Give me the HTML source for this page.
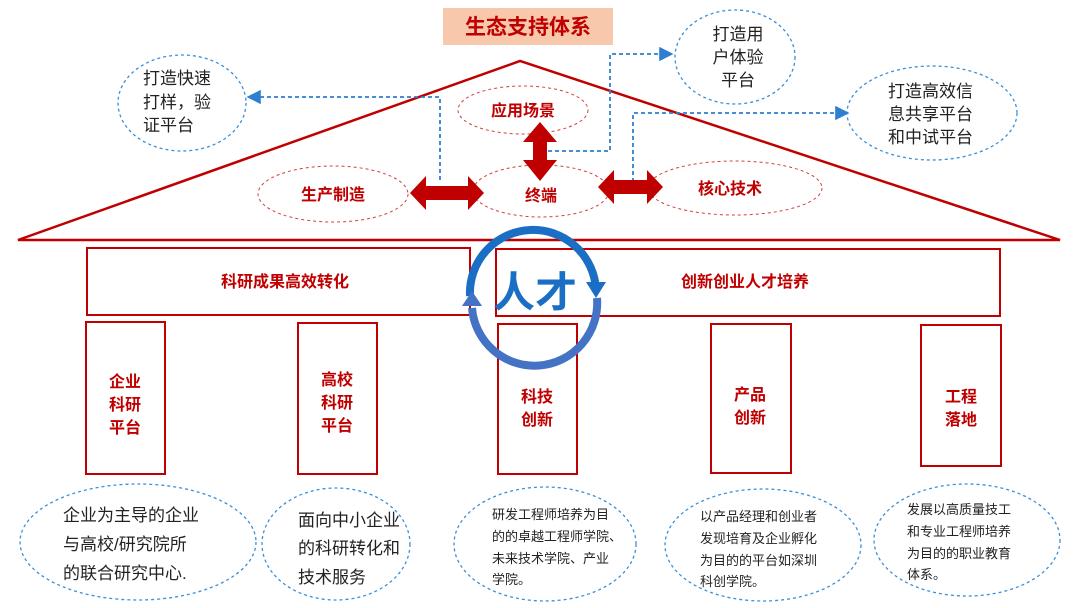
<!DOCTYPE html>
<html><head><meta charset="utf-8"><style>
html,body{margin:0;padding:0;background:#fff;width:1080px;height:608px;overflow:hidden}
text{font-family:"Liberation Sans","Noto Sans CJK SC",sans-serif}
.r{fill:#c00000;font-weight:bold}
.k{fill:#222}
</style></head><body>
<svg width="1080" height="608" viewBox="0 0 1080 608" xmlns="http://www.w3.org/2000/svg">
<defs>
<marker id="ab" markerWidth="8" markerHeight="8" refX="6" refY="4" orient="auto"><path d="M0,0 L8,4 L0,8 z" fill="#2f7fd0"/></marker>
</defs>
<rect x="443" y="8" width="170" height="37" fill="#f8c8ad"/>
<text x="528" y="34" text-anchor="middle" font-size="21" class="r">生态支持体系</text>
<path d="M18,240 L520,61 L1060,240 Z" fill="none" stroke="#c00000" stroke-width="2.5"/>
<g fill="none" stroke="#3a8fd8" stroke-width="1.3" stroke-dasharray="3,3">
<ellipse cx="182" cy="103" rx="64" ry="48"/>
<ellipse cx="735" cy="57" rx="60" ry="47"/>
<ellipse cx="932" cy="113" rx="85" ry="47"/>
<ellipse cx="138" cy="542" rx="118" ry="58"/>
<ellipse cx="336" cy="544" rx="74" ry="56"/>
<ellipse cx="545" cy="544" rx="91" ry="57"/>
<ellipse cx="763" cy="545" rx="98" ry="56"/>
<ellipse cx="967" cy="540" rx="93" ry="56"/>
</g>
<g font-size="17" class="k">
<text x="143" y="84">打造快速</text><text x="143" y="108">打样，验</text><text x="143" y="131">证平台</text>
<text x="738" y="40" text-anchor="middle">打造用</text><text x="738" y="63" text-anchor="middle">户体验</text><text x="738" y="86" text-anchor="middle">平台</text>
<text x="888" y="97">打造高效信</text><text x="888" y="120">息共享平台</text><text x="888" y="143">和中试平台</text>
<text x="63" y="521">企业为主导的企业</text><text x="63" y="550">与高校/研究院所</text><text x="63" y="579">的联合研究中心.</text>
<text x="298" y="526">面向中小企业</text><text x="298" y="554">的科研转化和</text><text x="298" y="583">技术服务</text>
</g>
<g font-size="13" class="k">
<text x="492" y="519">研发工程师培养为目</text><text x="492" y="541">的的卓越工程师学院、</text><text x="492" y="563">未来技术学院、产业</text><text x="492" y="584">学院。</text>
<text x="700" y="521">以产品经理和创业者</text><text x="700" y="543">发现培育及企业孵化</text><text x="700" y="565">为目的的平台如深圳</text><text x="700" y="586">科创学院。</text>
<text x="907" y="514">发展以高质量技工</text><text x="907" y="536">和专业工程师培养</text><text x="907" y="558">为目的的职业教育</text><text x="907" y="579">体系。</text>
</g>
<g fill="none" stroke="#d04040" stroke-width="1" stroke-dasharray="3,3">
<ellipse cx="523" cy="110" rx="65" ry="24"/>
<ellipse cx="333" cy="194" rx="75" ry="28"/>
<ellipse cx="541" cy="191" rx="68" ry="26"/>
<ellipse cx="735" cy="188" rx="87" ry="27"/>
</g>
<g font-size="16" class="r">
<text x="523" y="116" text-anchor="middle">应用场景</text>
<text x="333" y="200" text-anchor="middle">生产制造</text>
<text x="541" y="201" text-anchor="middle">终端</text>
<text x="730" y="194" text-anchor="middle">核心技术</text>
</g>
<g fill="none" stroke="#2f7fd0" stroke-width="1.8" stroke-dasharray="4,3">
<path d="M440,180 L440,97 L250,97" marker-end="url(#ab)"/>
<path d="M548,151 L610,151 L610,54 L670,54" marker-end="url(#ab)"/>
<path d="M633,182 L633,113 L846,113" marker-end="url(#ab)"/>
</g>
<g fill="#c00000">
<path d="M540,122 L557,142 L547,142 L547,160 L557,160 L540,181 L523,160 L533,160 L533,142 L523,142 Z"/>
<path d="M410,193 L426,176 L426,186 L468,186 L468,176 L484,193 L468,210 L468,200 L426,200 L426,210 Z"/>
<path d="M598,187 L614,170 L614,180 L647,180 L647,170 L663,187 L647,204 L647,194 L614,194 L614,204 Z"/>
</g>
<rect x="87" y="248" width="383" height="67" fill="none" stroke="#c00000" stroke-width="2"/>
<rect x="496" y="249" width="504" height="67" fill="none" stroke="#c00000" stroke-width="2"/>
<text x="285" y="287" text-anchor="middle" font-size="16" class="r">科研成果高效转化</text>
<text x="745" y="287" text-anchor="middle" font-size="16" class="r">创新创业人才培养</text>
<g fill="none" stroke="#c00000" stroke-width="2">
<rect x="86" y="322" width="79" height="152"/>
<rect x="298" y="323" width="79" height="151"/>
<rect x="498" y="324" width="79" height="150"/>
<rect x="711" y="324" width="80" height="149"/>
<rect x="921" y="325" width="80" height="141"/>
</g>
<g font-size="16" class="r" text-anchor="middle">
<text x="125" y="387">企业</text><text x="125" y="410">科研</text><text x="125" y="433">平台</text>
<text x="337" y="385">高校</text><text x="337" y="408">科研</text><text x="337" y="431">平台</text>
<text x="537" y="402">科技</text><text x="537" y="425">创新</text>
<text x="750" y="400">产品</text><text x="750" y="423">创新</text>
<text x="961" y="402">工程</text><text x="961" y="425">落地</text>
</g>
<path d="M470,296 A62,62 0 0 1 596,290" fill="none" stroke="#1a6fc4" stroke-width="8"/>
<path d="M586,282 L606,282 L596,298 Z" fill="#1a6fc4"/>
<path d="M597,298 A62,62 0 0 1 472,308" fill="none" stroke="#4472c4" stroke-width="8"/>
<path d="M462,306 L482,306 L472,291 Z" fill="#4472c4"/>
<text x="535" y="307" text-anchor="middle" font-size="42" font-weight="bold" fill="#1a6fc4">人才</text>
</svg>
</body></html>
